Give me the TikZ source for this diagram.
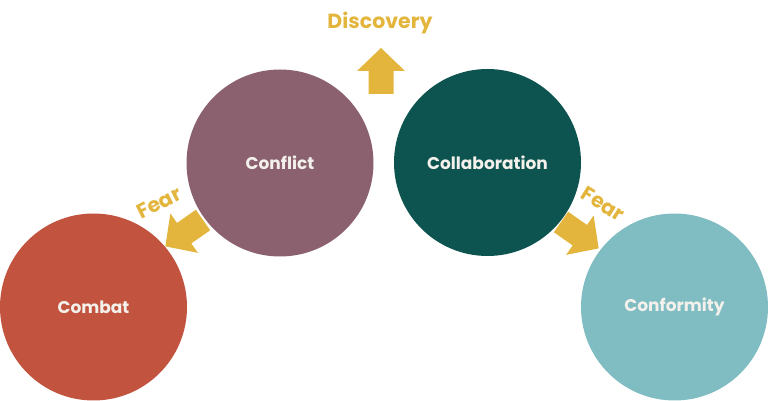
\documentclass[tikz,border=0pt]{standalone}
\usepackage{fontspec}
\setmainfont{Poppins}
\definecolor{cCombat}{HTML}{C2533F}
\definecolor{cConflict}{HTML}{8B6170}
\definecolor{cCollab}{HTML}{0D5350}
\definecolor{cConform}{HTML}{7FBDC2}
\definecolor{cGold}{HTML}{E3B53C}
\definecolor{cText}{HTML}{F4F1EC}
\tikzset{
  disc/.style={circle, minimum size=187pt, inner sep=0pt, text=cText, font=\fontsize{17}{20}\selectfont\bfseries},
  goldlabel/.style={text=cGold, font=\fontsize{20.5}{22}\selectfont\bfseries, inner sep=0pt},
  fatarrow/.pic={\fill[cGold] (0,-12.5) -- (23,-12.5) -- (23,-24) -- (46,0) -- (23,24) -- (23,12.5) -- (0,12.5) -- cycle;}
}
\begin{document}
\begin{tikzpicture}[x=1pt,y=1pt]
\useasboundingbox (0,0) rectangle (768,401);
\node[disc, fill=cCombat] (combat) at (93.5,94) {Combat};
\node[disc, fill=cConflict] (conflict) at (280,238) {Conflict};
\node[disc, fill=cCollab] (collab) at (487.5,238.5) {Collaboration};
\node[disc, fill=cConform] (conform) at (674.5,94) {Conformity};
\coordinate (up) at (381,307);
\coordinate (leftfear) at (203,181);
\coordinate (rightfear) at (561,179);
\pic[rotate=90] at (up) {fatarrow};
\pic[rotate=215] at (leftfear) {fatarrow};
\pic[rotate=-35] at (rightfear) {fatarrow};
\node[goldlabel] (discovery) at (380,378) {Discovery};
\node[goldlabel, rotate=27] (fearl) at (159,198) {Fear};
\node[goldlabel, rotate=-32] (fearr) at (603,197) {Fear};
\end{tikzpicture}
\end{document}
